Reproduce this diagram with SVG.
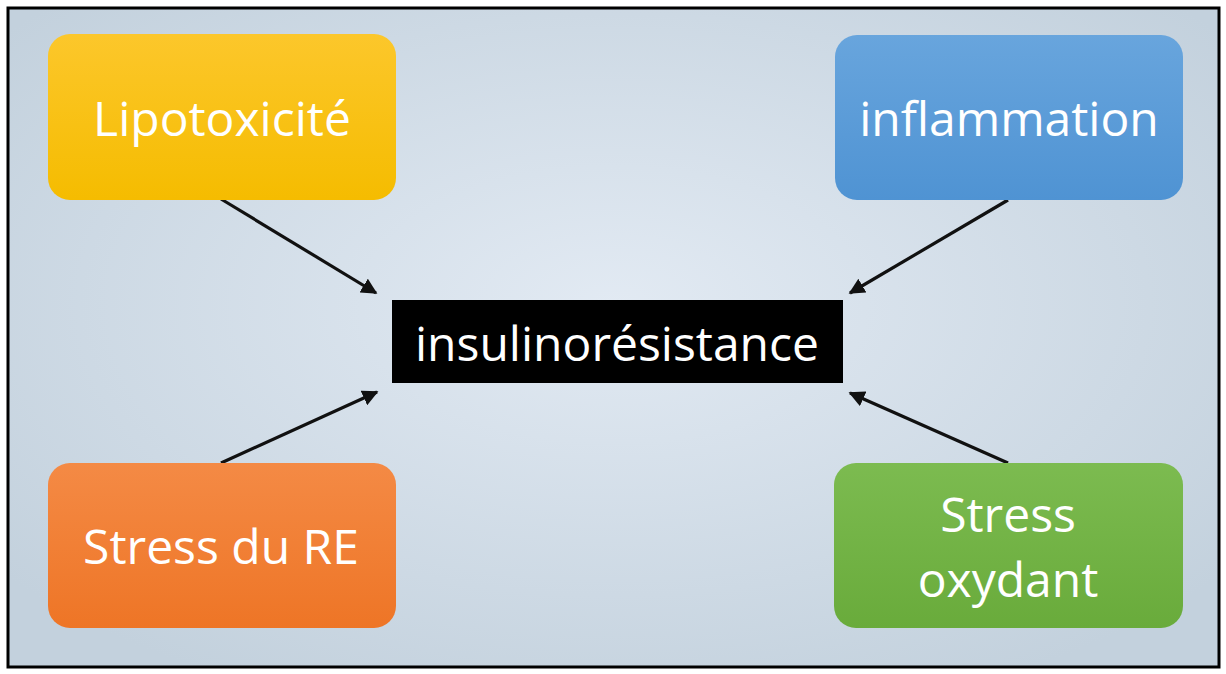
<svg xmlns="http://www.w3.org/2000/svg" width="1226" height="674" viewBox="0 0 1226 674">
<style>
.lbl{font-family:"Open Sans","Liberation Sans",sans-serif;fill:#ffffff;text-anchor:middle;font-size:48px}
.conn line{stroke:#111;stroke-width:3.2;marker-end:url(#arr)}
</style>
<defs>
<radialGradient id="bg" cx="0.5" cy="0.45" r="0.65">
<stop offset="0" stop-color="#e2eaf3"/>
<stop offset="1" stop-color="#c3d1dd"/>
</radialGradient>
<linearGradient id="gy" x1="0" y1="0" x2="0" y2="1"><stop offset="0" stop-color="#fcc72b"/><stop offset="1" stop-color="#f5bc00"/></linearGradient>
<linearGradient id="gb" x1="0" y1="0" x2="0" y2="1"><stop offset="0" stop-color="#68a5dd"/><stop offset="1" stop-color="#4f93d3"/></linearGradient>
<linearGradient id="go" x1="0" y1="0" x2="0" y2="1"><stop offset="0" stop-color="#f48a45"/><stop offset="1" stop-color="#ee7526"/></linearGradient>
<linearGradient id="gg" x1="0" y1="0" x2="0" y2="1"><stop offset="0" stop-color="#7cbb50"/><stop offset="1" stop-color="#69ab3b"/></linearGradient>
<marker id="arr" viewBox="0 0 10 10" refX="9" refY="5" markerWidth="5" markerHeight="5" orient="auto" markerUnits="strokeWidth">
<path d="M0,0 L10,5 L0,10 z" fill="#111"/>
</marker>
</defs>
<rect x="0" y="0" width="1226" height="674" fill="#ffffff"/>
<rect x="8" y="8" width="1211" height="659" fill="url(#bg)" stroke="#000" stroke-width="3"/>
<g class="conn">
<line x1="221" y1="199" x2="376" y2="293"/>
<line x1="1008" y1="200" x2="850" y2="293"/>
<line x1="221" y1="463" x2="377" y2="392"/>
<line x1="1008" y1="463" x2="850" y2="393"/>
</g>
<g id="lipotoxicite">
<rect x="48" y="34" width="348" height="166" rx="22" fill="url(#gy)"/>
<text class="lbl" x="222" y="136">Lipotoxicité</text>
</g>
<g id="inflammation">
<rect x="835" y="35" width="348" height="165" rx="22" fill="url(#gb)"/>
<text class="lbl" x="1009" y="136">inflammation</text>
</g>
<g id="stress-re">
<rect x="48" y="463" width="348" height="165" rx="22" fill="url(#go)"/>
<text class="lbl" x="221" y="564">Stress du RE</text>
</g>
<g id="stress-oxydant">
<rect x="834" y="463" width="349" height="165" rx="22" fill="url(#gg)"/>
<text class="lbl" x="1008" y="532">Stress</text>
<text class="lbl" x="1008" y="597">oxydant</text>
</g>
<g id="insulinoresistance">
<rect x="392" y="300" width="451" height="83" fill="#000"/>
<text class="lbl" x="617" y="361">insulinorésistance</text>
</g>
</svg>
